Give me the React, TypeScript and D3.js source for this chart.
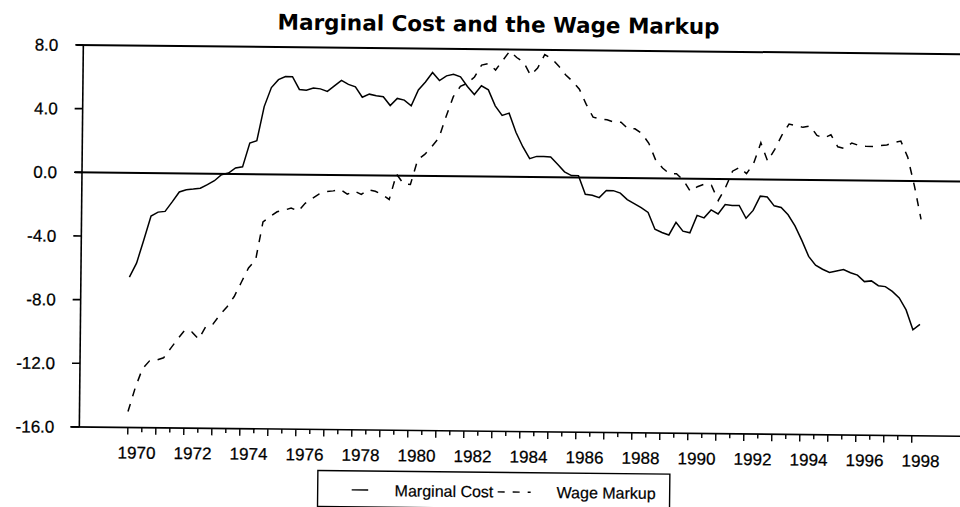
import React from "react";
import * as d3 from "d3";

const startYear = 1970;

// quarterly values, 1970Q1 .. 1998Q2
const marginalCost = [
  -6.55, -5.67, -4.21, -2.7,
  -2.45, -2.4, -1.8, -1.17,
  -1.03, -0.98, -0.92, -0.69,
  -0.44, -0.06, 0.05, 0.38,
  0.45, 1.95, 2.1, 4.25,
  5.45, 5.95, 6.15, 6.15,
  5.35, 5.3, 5.45, 5.4,
  5.25, 5.6, 5.95, 5.7,
  5.55, 4.9, 5.1, 5.0,
  4.95, 4.4, 4.85, 4.75,
  4.4, 5.4, 5.9, 6.5,
  6.0, 6.3, 6.4, 6.25,
  5.65, 5.15, 5.7, 5.45,
  4.45, 3.85, 4.0, 2.8,
  1.9, 1.15, 1.3, 1.3,
  1.27, 0.82, 0.35, 0.12,
  0.12, -1.05, -1.1, -1.25,
  -0.8, -0.8, -0.95, -1.35,
  -1.6, -1.85, -2.15, -3.2,
  -3.4, -3.55, -2.75, -3.3,
  -3.4, -2.3, -2.45, -1.95,
  -2.2, -1.6, -1.65, -1.65,
  -2.45, -1.95, -1.05, -1.1,
  -1.65, -1.75, -2.2, -2.9,
  -3.8, -4.8, -5.35, -5.6,
  -5.8, -5.7, -5.6, -5.8,
  -5.95, -6.35, -6.3, -6.6,
  -6.65, -6.95, -7.35, -8.1,
  -9.35, -9.0,
];

const wageMarkup = [
  -15.0, -13.5, -12.3, -11.8,
  -11.75, -11.6, -11.0, -10.4,
  -9.85, -9.95, -10.4, -9.6,
  -9.45, -8.85, -8.35, -7.7,
  -6.8, -5.9, -5.4, -3.0,
  -2.65, -2.35, -2.25, -2.1,
  -2.3, -1.8, -1.5, -1.2,
  -1.05, -1.0, -0.9, -1.2,
  -1.0, -1.2, -0.9, -1.0,
  -1.2, -1.5, 0.1, -0.5,
  -0.55, 1.0, 1.35, 1.85,
  2.4, 3.75, 5.0, 5.65,
  5.85, 6.25, 7.0, 7.1,
  6.7, 7.3, 7.9, 7.5,
  7.2, 6.4, 6.85, 7.7,
  7.45, 7.0, 6.45, 6.05,
  5.55, 4.6, 3.8, 3.7,
  3.65, 3.5, 3.5, 3.1,
  3.1, 2.8, 2.2, 1.15,
  0.65, 0.3, 0.3, -0.1,
  -0.8, -0.5, -0.33, -0.4,
  -1.35, -0.55, 0.5, 0.75,
  0.35, 1.0, 2.3, 1.15,
  1.9, 2.8, 3.5, 3.4,
  3.3, 3.4, 2.8, 2.65,
  2.85, 2.1, 2.0, 2.35,
  2.2, 2.15, 2.15, 2.2,
  2.25, 2.4, 2.5, 1.5,
  -0.3, -2.4,
];

const yTickValues = [8, 4, 0, -4, -8, -12, -16];
const yTickLabels = ["8.0", "4.0", "0.0", "-4.0", "-8.0", "-12.0", "-16.0"];
const xLabelYears = [1970, 1972, 1974, 1976, 1978, 1980, 1982, 1984, 1986, 1988, 1990, 1992, 1994, 1996, 1998];
const titleText = "Marginal Cost and the Wage Markup";
const legendLabels = ["Marginal Cost", "Wage Markup"];

export default function App() {
  const x = d3.scaleLinear().domain([1970, 1998]).range([130.5, 914.5]);
  const y = d3.scaleLinear().domain([-16, 8]).range([427, 45]);
  const line = d3
    .line<number>()
    .x((_, i) => x(startYear + i / 4))
    .y((d) => y(d));
  const halfYears = d3.range(1970, 1998.001, 0.5);
  const font = "'Liberation Sans', Arial, sans-serif";

  return (
    <svg
      width={960}
      height={507}
      style={{ position: "absolute", left: 0, top: 0, background: "#fff" }}
    >
      <rect x={0} y={0} width={960} height={507} fill="#fff" />
      <g transform="rotate(0.6 82 172)">
        <text
          x={497}
          y={27.5}
          textAnchor="middle"
          fontFamily="'DejaVu Sans', sans-serif"
          fontWeight="bold"
          fontSize={21.5}
          fill="#000"
        >
          {titleText}
        </text>

        {/* reference lines at 8 and 0 */}
        <line x1={75} x2={1010} y1={y(8)} y2={y(8)} stroke="#000" strokeWidth={2} />
        <line x1={75} x2={1010} y1={y(0)} y2={y(0)} stroke="#000" strokeWidth={2} />

        {/* y axis */}
        <line x1={82} x2={82} y1={y(8)} y2={y(-16)} stroke="#000" strokeWidth={1.6} />
        {yTickValues.map((v, i) => (
          <g key={v}>
            <line x1={74} x2={82} y1={y(v)} y2={y(v)} stroke="#000" strokeWidth={1.6} />
            <text
              x={57}
              y={y(v) + 6}
              textAnchor="end"
              fontFamily={font}
              fontSize={17}
              stroke="#000"
              strokeWidth={0.25}
              fill="#000"
            >
              {yTickLabels[i]}
            </text>
          </g>
        ))}

        {/* x axis */}
        <line x1={73} x2={1010} y1={y(-16)} y2={y(-16)} stroke="#000" strokeWidth={1.6} />
        {halfYears.map((t) => (
          <line
            key={t}
            x1={x(t)}
            x2={x(t)}
            y1={y(-16)}
            y2={y(-16) + (Number.isInteger(t) ? 7 : 4.5)}
            stroke="#000"
            strokeWidth={1.4}
          />
        ))}
        {xLabelYears.map((yr) => (
          <text
            key={yr}
            x={x(yr) + 9}
            y={458}
            textAnchor="middle"
            fontFamily={font}
            fontSize={17}
            stroke="#000"
            strokeWidth={0.25}
            fill="#000"
          >
            {yr}
          </text>
        ))}

        {/* series */}
        <path d={line(marginalCost) || ""} fill="none" stroke="#000" strokeWidth={1.5} />
        <path
          d={line(wageMarkup) || ""}
          fill="none"
          stroke="#000"
          strokeWidth={1.5}
          strokeDasharray="8,8"
        />

        {/* legend */}
        <rect x={321} y={468} width={352} height={36} fill="#fff" stroke="#000" strokeWidth={1.4} />
        <line x1={355} x2={371.5} y1={487} y2={487} stroke="#000" strokeWidth={1.4} />
        <text x={398} y={493} fontFamily={font} fontSize={16} stroke="#000" strokeWidth={0.2} fill="#000">
          {legendLabels[0]}
        </text>
        <line
          x1={501}
          x2={534}
          y1={487.5}
          y2={487.5}
          stroke="#000"
          strokeWidth={1.4}
          strokeDasharray="7,8"
        />
        <text x={560} y={493} fontFamily={font} fontSize={16} stroke="#000" strokeWidth={0.2} fill="#000">
          {legendLabels[1]}
        </text>
      </g>
    </svg>
  );
}
